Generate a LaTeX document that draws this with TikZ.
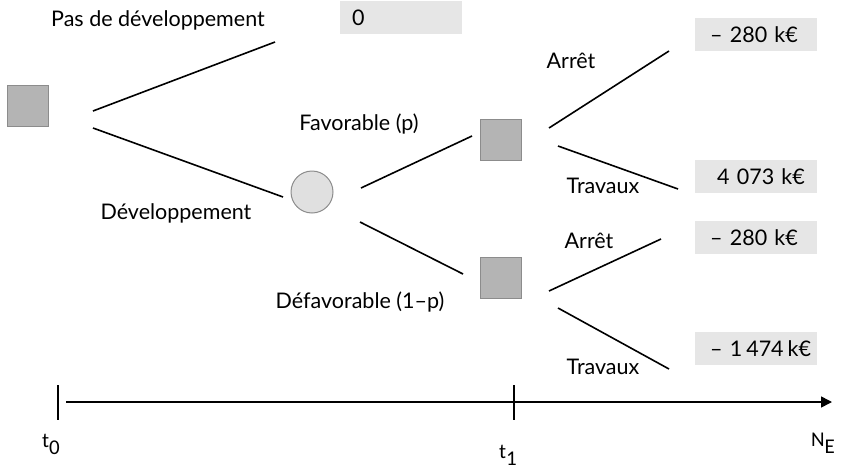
\documentclass[tikz,border=0pt]{standalone}
\usepackage{fontspec}
\setmainfont{Lato}
\newfontfamily\axisfont{Carlito}
\usetikzlibrary{arrows.meta}
\definecolor{squarefill}{HTML}{B4B4B4}
\definecolor{circlefill}{HTML}{E0E0E0}
\definecolor{nodeedge}{HTML}{8C8C8C}
\definecolor{boxfill}{HTML}{E6E6E6}
\begin{document}
\begin{tikzpicture}[x=1pt,y=-1pt,
  decision/.style={draw=nodeedge, fill=squarefill, line width=1pt, minimum size=41pt, inner sep=0pt},
  chance/.style={circle, draw=nodeedge, fill=circlefill, line width=1pt, minimum size=42pt, inner sep=0pt},
  payoff/.style={fill=boxfill, minimum height=33pt, text width=92pt, inner xsep=15pt, inner ysep=0pt,
    align=left, anchor=north west, font=\fontsize{21.5}{24}\selectfont},
  branch/.style={line width=1.6pt},
  lbl/.style={font=\fontsize{21.5}{24}\selectfont, inner sep=0pt},
  axislbl/.style={font=\axisfont\fontsize{21}{24}\selectfont, inner sep=0pt},
  axis/.style={line width=1.6pt}]

\useasboundingbox (0,0) rectangle (841,469);

% decision and chance nodes
\node[decision] (d0) at (28,106) {};
\node[chance]   (c1) at (312,192) {};
\node[decision] (d1) at (501,140) {};
\node[decision] (d2) at (501,278) {};

% payoffs
\node[payoff] (v0) at (340,1)   {\hspace{-3pt}0};
\node[payoff] (v1) at (695,18)  {\mbox{– 280 k€}};
\node[payoff] (v2) at (695,160) {\mbox{\hspace{7pt}4 073 k€}};
\node[payoff] (v3) at (695,221) {\mbox{– 280 k€}};
\node[payoff] (v4) at (695,332) {\mbox{– 1\hspace{4pt}474\hspace{4pt}k€}};

% branch end points
\coordinate (a1) at (93,111);  \coordinate (a2) at (275,42);
\coordinate (b1) at (93,128);  \coordinate (b2) at (283,197);
\coordinate (f1) at (361,188); \coordinate (f2) at (472,136);
\coordinate (g1) at (360,222); \coordinate (g2) at (463,274);
\coordinate (h1) at (549,128); \coordinate (h2) at (669,51);
\coordinate (k1) at (558,146); \coordinate (k2) at (678,189);
\coordinate (m1) at (549,291); \coordinate (m2) at (661,239);
\coordinate (n1) at (558,308); \coordinate (n2) at (669,369);

\draw[branch] (a1) -- (a2);
\draw[branch] (b1) -- (b2);
\draw[branch] (f1) -- (f2);
\draw[branch] (g1) -- (g2);
\draw[branch] (h1) -- (h2);
\draw[branch] (k1) -- (k2);
\draw[branch] (m1) -- (m2);
\draw[branch] (n1) -- (n2);

% branch labels
\node[lbl] (lpas) at (158,20)  {Pas de développement};
\node[lbl] (ldev) at (176,213) {Développement};
\node[lbl] (lfav) at (359,124) {Favorable (p)};
\node[lbl] (ldef) at (360,302) {Défavorable (1–p)};
\node[lbl] (la1)  at (571,61)  {Arrêt};
\node[lbl] (lt1)  at (603,186) {Travaux};
\node[lbl] (la2)  at (589,241) {Arrêt};
\node[lbl] (lt2)  at (603,367) {Travaux};

% time axis
\coordinate (ax0) at (66,402);
\coordinate (ax1) at (832,402);
\coordinate (tk0a) at (58,385);  \coordinate (tk0b) at (58,420);
\coordinate (tk1a) at (514,385); \coordinate (tk1b) at (514,420);
\draw[axis, -{Triangle[length=11pt,width=11pt]}] (ax0) -- (ax1);
\draw[axis] (tk0a) -- (tk0b);
\draw[axis] (tk1a) -- (tk1b);

\node[axislbl] (lt0) at (51,444)  {t\raisebox{-7pt}{0}};
\node[axislbl] (ltt) at (508,455) {t\raisebox{-7pt}{1}};
\node[axislbl] (lne) at (823,443) {N\raisebox{-7pt}{E}};
\end{tikzpicture}
\end{document}
